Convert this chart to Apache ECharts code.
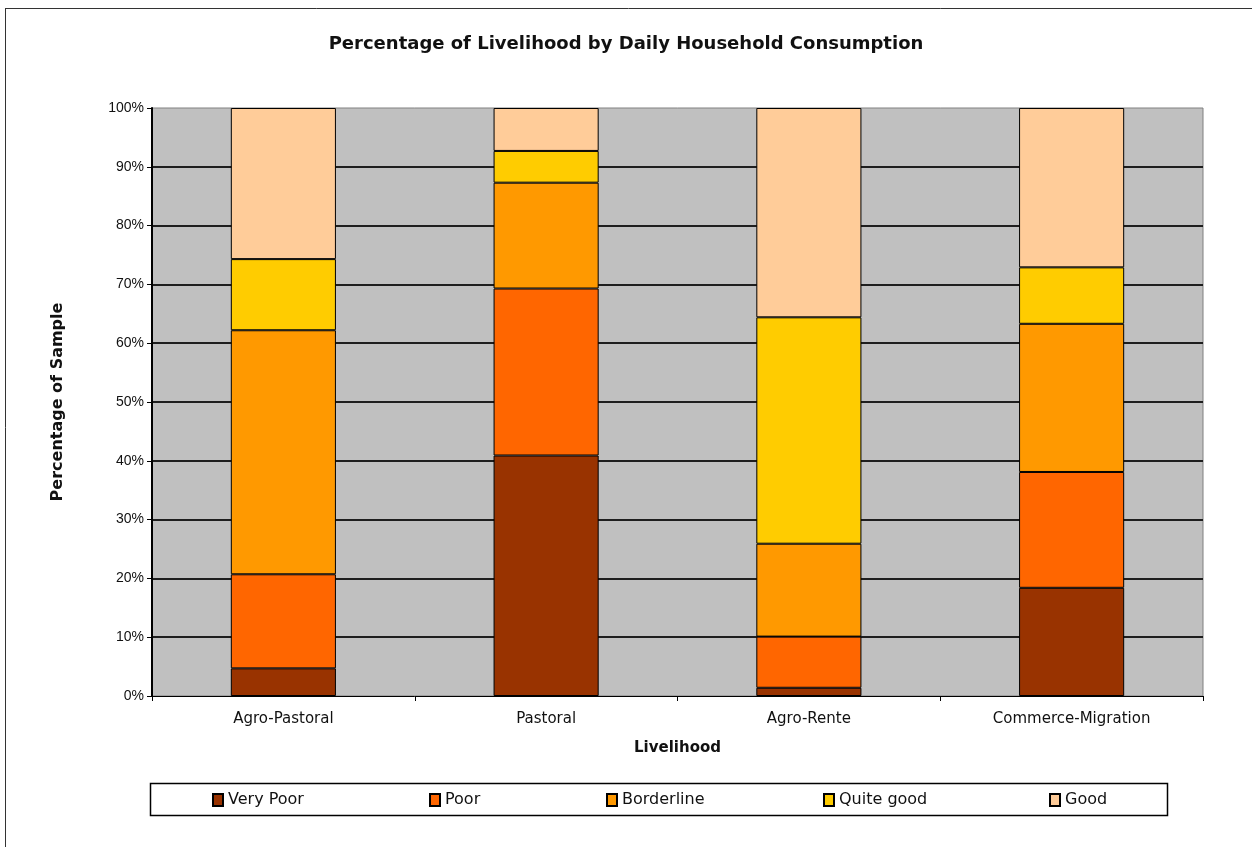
<!DOCTYPE html>
<html>
<head>
<meta charset="utf-8">
<script src="https://cdn.jsdelivr.net/npm/echarts@6/dist/echarts.min.js"></script>
<style>
  html, body { margin: 0; padding: 0; background: #ffffff; }
  #chart { width: 1252px; height: 847px; }
</style>
</head>
<body>
<div id="chart"></div>
<script>
// Share of households in each consumption group, per livelihood zone (percent)
const categories = ['Agro-Pastoral', 'Pastoral', 'Agro-Rente', 'Commerce-Migration'];
const veryPoor   = [4.7, 40.9, 1.4, 18.4];
const poor       = [16.0, 28.4, 8.7, 19.7];
const borderline = [41.5, 18.0, 15.8, 25.2];
const quiteGood  = [12.1, 5.4, 38.5, 9.6];
const good       = [25.7, 7.3, 35.6, 27.1];
const yTicks = [0, 10, 20, 30, 40, 50, 60, 70, 80, 90, 100];

const groups = [
  { name: 'Very Poor',  data: veryPoor,   color: '#993300', legendX: 212 },
  { name: 'Poor',       data: poor,       color: '#FF6600', legendX: 429 },
  { name: 'Borderline', data: borderline, color: '#FF9900', legendX: 606 },
  { name: 'Quite good', data: quiteGood,  color: '#FFCC00', legendX: 823 },
  { name: 'Good',       data: good,       color: '#FFCC99', legendX: 1049 }
];

const SANS = '"DejaVu Sans", sans-serif';
const ARIAL = '"Liberation Sans", Arial, sans-serif';

const chart = echarts.init(document.getElementById('chart'), null, { renderer: 'canvas' });

const option = {
  backgroundColor: '#ffffff',
  animation: false,
  title: {
    text: 'Percentage of Livelihood by Daily Household Consumption',
    left: 621,
    top: 30,
    textAlign: 'center',
    textStyle: { fontFamily: SANS, fontWeight: 'bold', fontSize: 18, color: '#111' }
  },
  grid: {
    left: 152, right: 49, top: 108, bottom: 151,
    show: true,
    backgroundColor: '#C0C0C0',
    borderColor: '#808080',
    borderWidth: 1
  },
  legend: groups.map(g => ({
    data: [{ name: g.name, icon: 'rect' }],
    left: g.legendX,
    top: 792,
    padding: 0,
    itemWidth: 10,
    itemHeight: 12,
    textStyle: { fontFamily: SANS, fontSize: 16, color: '#111' }
  })),
  xAxis: {
    type: 'category',
    data: categories,
    name: 'Livelihood',
    nameLocation: 'middle',
    nameGap: 45,
    nameTextStyle: { fontFamily: SANS, fontWeight: 'bold', fontSize: 15, color: '#111' },
    axisLine: { lineStyle: { color: '#000', width: 1 } },
    axisTick: { show: true, alignWithLabel: false, length: 5, lineStyle: { color: '#000' } },
    axisLabel: { margin: 16, fontFamily: SANS, fontSize: 15, color: '#111' }
  },
  yAxis: {
    type: 'value',
    min: yTicks[0],
    max: yTicks[yTicks.length - 1],
    interval: yTicks[1] - yTicks[0],
    name: 'Percentage of Sample',
    nameLocation: 'middle',
    nameGap: 86,
    nameTextStyle: { fontFamily: SANS, fontWeight: 'bold', fontSize: 16, color: '#111' },
    axisLine: { show: true, lineStyle: { color: '#000', width: 2 } },
    axisTick: { show: true, length: 5, lineStyle: { color: '#000' } },
    axisLabel: { margin: 8, fontFamily: ARIAL, fontSize: 14, color: '#111', formatter: '{value}%' },
    splitLine: { show: true, showMinLine: false, showMaxLine: false, lineStyle: { color: '#1e1e1e', width: 2 } }
  },
  series: groups.map(g => ({
    name: g.name,
    type: 'bar',
    stack: 'share',
    barWidth: '40%',
    data: g.data,
    itemStyle: { color: g.color, borderColor: '#000', borderWidth: 1 }
  })),
  graphic: [
    // legend frame
    { type: 'rect', shape: { x: 150.5, y: 783.5, width: 1017, height: 32 },
      style: { fill: 'none', stroke: '#000', lineWidth: 1.5 }, z: -1 },
    // outer page frame (top and left edges)
    { type: 'line', shape: { x1: 5, y1: 8.5, x2: 1252, y2: 8.5 }, style: { stroke: '#333', lineWidth: 1 } },
    { type: 'line', shape: { x1: 5.5, y1: 8, x2: 5.5, y2: 847 }, style: { stroke: '#333', lineWidth: 1 } }
  ]
};

chart.setOption(option);
</script>
</body>
</html>
